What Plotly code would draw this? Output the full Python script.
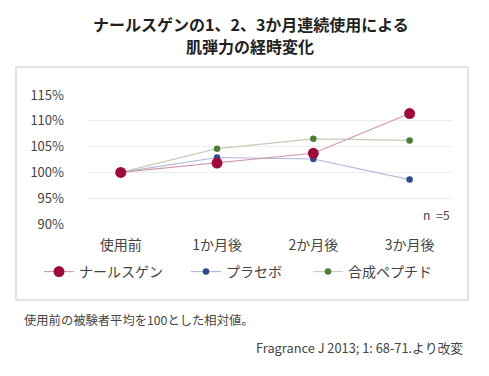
import plotly.graph_objects as go

categories = ["使用前", "1か月後", "2か月後", "3か月後"]
series_names = ["ナールスゲン", "プラセボ", "合成ペプチド"]
nars = [100.0, 101.8, 103.7, 111.4]
placebo = [100.0, 102.9, 102.6, 98.6]
peptide = [100.0, 104.6, 106.5, 106.2]
y_ticks = [90, 95, 100, 105, 110, 115]
y_tick_labels = ["90%", "95%", "100%", "105%", "110%", "115%"]

FONT = "Noto Sans CJK JP"
OFF = 8  # page body margin
W, H = 489 - OFF, 376 - OFF
# plot area in page coordinates: x 88..452, y 95..224
L, R, T, B = 88 - OFF, 489 - 452, 95 - OFF, 376 - 224
PW, PH = W - L - R, H - T - B

def px(x):
    return (x - OFF - L) / PW

def py(y):
    return (H - B - (y - OFF)) / PH

fig = go.Figure()

styles = [
    (nars, "#9c0b3c", "#d296a8", 11, "legend"),
    (placebo, "#2e4b8c", "#afb8d8", 6.5, "legend2"),
    (peptide, "#4f7e33", "#c3ceb8", 6.5, "legend3"),
]
for idx in [2, 1, 0]:
    vals, mc, lc, ms, lg = styles[idx]
    fig.add_trace(go.Scatter(
        x=categories, y=vals, name=series_names[idx], mode="lines+markers",
        line=dict(color=lc, width=1.1),
        marker=dict(color=mc, size=ms),
        cliponaxis=False, legend=lg,
    ))

legend_common = dict(orientation="h", xanchor="left", yanchor="middle",
                     font=dict(family=FONT, size=14, color="#444"),
                     bgcolor="rgba(0,0,0,0)", itemclick=False)

fig.update_layout(
    width=W, height=H,
    margin=dict(l=L, r=R, t=T, b=B),
    paper_bgcolor="white", plot_bgcolor="rgba(0,0,0,0)",
    font=dict(family=FONT, color="#444"),
    showlegend=True,
    legend=dict(x=px(39), y=py(272), **legend_common),
    legend2=dict(x=px(186), y=py(272), **legend_common),
    legend3=dict(x=px(308), y=py(272), **legend_common),
    xaxis=dict(type="category", range=[-0.34, 3.44], showgrid=False, zeroline=False,
               showline=False, ticks="", tickfont=dict(family=FONT, size=14, color="#444"),
               ticklabelstandoff=11),
    yaxis=dict(range=[90, 115], tickvals=y_ticks, ticktext=y_tick_labels,
               showgrid=True, gridcolor="#ededed", gridwidth=1, zeroline=False,
               showline=False, ticks="", tickfont=dict(family=FONT, size=13, color="#444"),
               ticklabelstandoff=23),
    shapes=[dict(type="rect", xref="paper", yref="paper",
                 x0=px(16), x1=px(468), y0=py(300), y1=py(67),
                 line=dict(color="#e4e4e4", width=2), layer="above")],
    annotations=[
        dict(text="<b>ナールスゲンの1、2、3か月連続使用による</b>",
             xref="paper", yref="paper", x=px(251), y=py(24.5), xanchor="center", yanchor="middle",
             showarrow=False, font=dict(family=FONT, size=16, color="#222")),
        dict(text="<b>肌弾力の経時変化</b>",
             xref="paper", yref="paper", x=px(250), y=py(45.5), xanchor="center", yanchor="middle",
             showarrow=False, font=dict(family=FONT, size=16, color="#222")),
        dict(text="n\u2002=5", xref="paper", yref="paper", x=px(452), y=py(214),
             xanchor="right", yanchor="middle", showarrow=False,
             font=dict(family=FONT, size=12, color="#444")),
        dict(text="使用前の被験者平均を100とした相対値。", xref="paper", yref="paper",
             x=px(22), y=py(320), xanchor="left", yanchor="middle", showarrow=False,
             font=dict(family=FONT, size=12.3, color="#444")),
        dict(text="Fragrance J 2013; 1: 68-71.より改変", xref="paper", yref="paper",
             x=px(465), y=py(347), xanchor="right", yanchor="middle", showarrow=False,
             font=dict(family=FONT, size=12.8, color="#444")),
    ],
)

fig.write_html("out.html")
